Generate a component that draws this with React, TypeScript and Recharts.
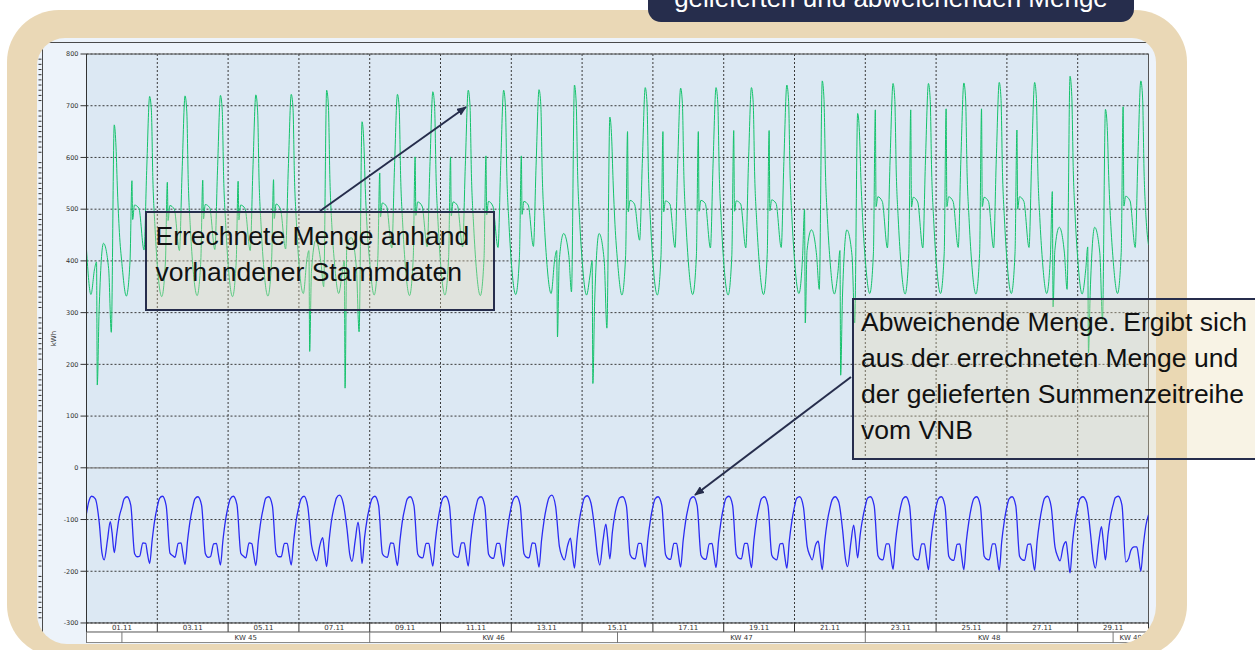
import React from "react";
import {
  ComposedChart,
  Line,
  XAxis,
  YAxis,
  CartesianGrid,
  ReferenceLine,
} from "recharts";

const greenHours = [0, 3, 5.5, 6.8, 7.3, 8.5, 11.5, 15, 16.8, 18.8, 20, 21, 22.3];
const blueHours = [0, 1.5, 3.5, 6, 8.6, 10.5, 12, 14.2, 16.1, 17.3, 18.8, 20.5, 22.2];

// errechnete Menge (kWh), one row per day 01.11. - 30.11.
const greenDays = [
  [421, 335, 385, 398, 160, 300, 434, 385, 262, 663, 620, 535, 455],
  [395, 332, 400, 555, 480, 508, 502, 421, 575, 718, 690, 556, 472],
  [392, 331, 398, 552, 478, 507, 500, 420, 572, 719, 688, 552, 470],
  [393, 333, 401, 556, 481, 509, 503, 422, 574, 720, 692, 558, 474],
  [394, 331, 399, 554, 479, 508, 501, 420, 576, 721, 690, 555, 471],
  [393, 332, 402, 557, 482, 510, 500, 423, 578, 722, 695, 560, 475],
  [396, 337, 405, 420, 225, 380, 440, 395, 350, 730, 700, 560, 470],
  [400, 337, 380, 400, 154, 430, 445, 385, 263, 669, 630, 540, 460],
  [398, 334, 405, 570, 485, 512, 505, 425, 580, 722, 695, 560, 475],
  [396, 333, 405, 601, 488, 514, 506, 427, 582, 727, 698, 562, 476],
  [397, 334, 406, 601, 487, 514, 507, 427, 583, 730, 700, 562, 477],
  [396, 333, 404, 603, 489, 515, 506, 426, 584, 730, 700, 563, 478],
  [398, 335, 407, 603, 490, 515, 508, 428, 585, 731, 702, 565, 478],
  [400, 337, 405, 420, 253, 400, 453, 410, 340, 740, 705, 565, 480],
  [402, 334, 375, 400, 163, 320, 453, 400, 270, 678, 640, 555, 470],
  [400, 334, 410, 650, 495, 517, 510, 440, 588, 735, 705, 566, 480],
  [398, 334, 410, 650, 495, 516, 510, 426, 588, 734, 704, 565, 479],
  [399, 335, 411, 650, 496, 517, 511, 425, 589, 735, 705, 566, 480],
  [398, 334, 410, 652, 496, 516, 510, 425, 590, 735, 706, 566, 480],
  [400, 335, 412, 652, 497, 518, 511, 426, 592, 740, 708, 568, 481],
  [402, 337, 410, 500, 280, 420, 460, 410, 345, 748, 712, 570, 482],
  [404, 336, 380, 420, 179, 330, 460, 410, 280, 685, 650, 560, 475],
  [402, 337, 415, 692, 505, 524, 515, 425, 595, 743, 712, 570, 483],
  [401, 336, 414, 692, 504, 523, 514, 425, 595, 743, 712, 570, 482],
  [402, 337, 415, 694, 505, 524, 515, 426, 596, 744, 713, 571, 484],
  [401, 336, 414, 694, 505, 523, 515, 425, 596, 745, 714, 571, 483],
  [402, 337, 415, 653, 500, 524, 515, 426, 597, 745, 714, 572, 484],
  [404, 337, 410, 534, 311, 420, 465, 415, 345, 757, 718, 575, 485],
  [405, 336, 385, 427, 222, 340, 465, 415, 285, 693, 660, 565, 478],
  [403, 337, 416, 698, 506, 525, 516, 426, 598, 748, 715, 572, 485],
];
const greenEnd = 431;

// abweichende Menge (kWh), one row per day
const blueDays = [
  [-88, -66, -55, -60, -105, -165, -178, -140, -104, -125, -164, -128, -95],
  [-76, -60, -56, -72, -166, -172, -171, -145, -146, -166, -185, -140, -102],
  [-75, -59, -55, -73, -165, -170, -173, -146, -145, -165, -187, -141, -103],
  [-76, -60, -56, -72, -166, -173, -172, -147, -146, -166, -188, -140, -102],
  [-75, -60, -55, -71, -165, -171, -174, -145, -147, -167, -189, -141, -103],
  [-76, -59, -56, -73, -166, -172, -172, -146, -146, -166, -188, -140, -101],
  [-75, -60, -55, -75, -150, -170, -180, -150, -135, -160, -191, -140, -100],
  [-74, -58, -53, -68, -118, -168, -181, -140, -105, -130, -185, -135, -100],
  [-75, -60, -55, -72, -166, -172, -173, -145, -146, -166, -189, -141, -102],
  [-76, -60, -56, -73, -167, -173, -174, -146, -146, -167, -190, -141, -103],
  [-75, -59, -55, -72, -166, -172, -173, -145, -145, -166, -190, -140, -102],
  [-76, -60, -56, -73, -167, -174, -175, -146, -146, -167, -191, -141, -103],
  [-75, -60, -55, -72, -166, -173, -174, -145, -146, -166, -192, -140, -102],
  [-74, -58, -53, -74, -152, -172, -178, -150, -136, -162, -194, -140, -100],
  [-74, -58, -54, -68, -120, -170, -188, -140, -109, -135, -176, -125, -90],
  [-68, -58, -56, -73, -168, -175, -176, -146, -146, -168, -192, -141, -103],
  [-75, -60, -56, -72, -168, -176, -177, -146, -146, -168, -192, -141, -103],
  [-76, -60, -56, -73, -169, -176, -177, -147, -146, -168, -193, -141, -103],
  [-75, -59, -55, -72, -168, -175, -176, -146, -146, -168, -193, -140, -102],
  [-76, -60, -56, -73, -169, -176, -178, -147, -146, -169, -194, -141, -103],
  [-75, -59, -56, -75, -152, -170, -178, -150, -142, -165, -197, -142, -104],
  [-78, -62, -56, -66, -120, -175, -191, -145, -111, -135, -174, -130, -98],
  [-74, -59, -56, -73, -170, -177, -178, -147, -147, -170, -196, -142, -104],
  [-75, -60, -56, -73, -170, -177, -178, -147, -147, -170, -197, -142, -104],
  [-75, -60, -56, -73, -171, -178, -179, -148, -147, -171, -197, -142, -104],
  [-75, -60, -56, -73, -171, -177, -178, -147, -147, -170, -198, -142, -104],
  [-75, -60, -56, -73, -171, -178, -179, -148, -147, -171, -198, -142, -104],
  [-75, -59, -55, -75, -153, -172, -180, -152, -143, -168, -203, -145, -105],
  [-76, -60, -56, -66, -125, -178, -194, -145, -114, -140, -178, -130, -95],
  [-72, -58, -55, -72, -182, -176, -160, -153, -153, -172, -200, -150, -112],
];
const blueEnd = -91;

const yTicks = [-300, -200, -100, 0, 100, 200, 300, 400, 500, 600, 700, 800];
const minorSteps = [10, 20, 30, 40, 50, 60, 70, 80, 90];

const dayBoundaries = [0, 48, 96, 144, 192, 240, 288, 336, 384, 432, 480, 528, 576, 624, 672, 720];
const dateLabelHours = [24, 72, 120, 168, 216, 264, 312, 360, 408, 456, 504, 552, 600, 648, 696];
const dateLabels = [
  "01.11", "03.11", "05.11", "07.11", "09.11", "11.11", "13.11", "15.11",
  "17.11", "19.11", "21.11", "23.11", "25.11", "27.11", "29.11",
];
const weekBoundaries = [0, 24, 192, 360, 528, 696, 720];
const weekLabelHours = [108, 276, 444, 612, 708];
const weekLabels = ["KW 45", "KW 46", "KW 47", "KW 48", "KW 49"];

const greenData = [
  ...greenDays.flatMap((row, d) => row.map((v, i) => ({ t: d * 24 + greenHours[i], v }))),
  { t: 720, v: greenEnd },
];
const blueData = [
  ...blueDays.flatMap((row, d) => row.map((v, i) => ({ t: d * 24 + blueHours[i], v }))),
  { t: 720, v: blueEnd },
];
const yMinorTicks = yTicks.slice(0, -1).flatMap((m) => minorSteps.map((s) => m + s));

const NAVY = "#262D4C";
const axisFont = "DejaVu Sans, Verdana, sans-serif";
const slideFont = "Liberation Sans, Arial, sans-serif";

// keeps the tick lines but draws no label
const noLabel = () => <g />;

const bandTick = (hours: number[], labels: string[], dy: number) => (props: any) => {
  const { x, y, payload } = props;
  const i = hours.indexOf(payload.value);
  return (
    <text x={x} y={y} dy={dy} textAnchor="middle" fontSize={7} fontFamily={axisFont} fill="#333">
      {labels[i] ?? ""}
    </text>
  );
};

const boxStyle: React.CSSProperties = {
  position: "absolute",
  boxSizing: "border-box",
  border: `2.5px solid ${NAVY}`,
  background: "rgba(233, 219, 173, 0.32)",
  fontFamily: slideFont,
  fontSize: 26.5,
  lineHeight: "36px",
  color: "#111",
  whiteSpace: "nowrap",
};

export default function App() {
  return (
    <div
      style={{
        position: "fixed",
        left: 0,
        top: 0,
        width: 1255,
        height: 650,
        overflow: "hidden",
        background: "#fff",
      }}
    >
      {/* beige frame */}
      <div
        style={{
          position: "absolute",
          left: 7,
          top: 10,
          width: 1180,
          height: 647,
          background: "#EAD8B6",
          borderRadius: 52,
        }}
      />

      {/* title tab */}
      <div
        style={{
          position: "absolute",
          left: 648,
          top: -40,
          width: 486,
          height: 62,
          background: NAVY,
          borderRadius: 13,
        }}
      />
      <div
        style={{
          position: "absolute",
          left: 648,
          top: -15,
          width: 486,
          height: 26,
          textAlign: "center",
          color: "#fff",
          fontFamily: slideFont,
          fontSize: 26,
          lineHeight: "26px",
          whiteSpace: "nowrap",
        }}
      >
        gelieferten und abweichenden Menge
      </div>

      {/* screenshot panel */}
      <div
        style={{
          position: "absolute",
          left: 37,
          top: 38,
          width: 1118.5,
          height: 605.5,
          background: "#EDF3FA",
          borderRadius: "28px 24px 38px 30px",
          overflow: "hidden",
        }}
      >
        <div
          style={{
            position: "absolute",
            left: 5,
            top: 4,
            width: 1300,
            height: 800,
            borderTop: "1px solid #4a4a4a",
            borderLeft: "1px solid #4a4a4a",
          }}
        />
        <div
          style={{
            position: "absolute",
            left: 49.5,
            top: 585,
            width: 1062,
            height: 20,
            background: "#fff",
            borderBottom: "1px solid #8a8a8a",
            boxSizing: "border-box",
          }}
        />
        <div style={{ position: "absolute", left: -37, top: -38 }}>
          <ComposedChart
            width={1255}
            height={650}
            data={greenData}
            margin={{ top: 54, right: 106.5, bottom: 7, left: 41.5 }}
          >
            <CartesianGrid stroke="#3a3a3a" strokeDasharray="2 2" fill="#DCE8F3" fillOpacity={1} />
            <XAxis
              xAxisId={0}
              dataKey="t"
              type="number"
              domain={[0, 720]}
              ticks={dayBoundaries}
              interval={0}
              tick={noLabel}
              tickSize={9}
              height={0.01}
              axisLine={{ stroke: "#333" }}
              tickLine={{ stroke: "#333" }}
              allowDataOverflow
            />
            <XAxis
              xAxisId="dates"
              dataKey="t"
              type="number"
              domain={[0, 720]}
              ticks={dateLabelHours}
              interval={0}
              tick={bandTick(dateLabelHours, dateLabels, 7)}
              tickSize={0}
              tickMargin={0}
              tickLine={false}
              axisLine={false}
              height={9}
              allowDataOverflow
            />
            <XAxis
              xAxisId="weekSep"
              dataKey="t"
              type="number"
              domain={[0, 720]}
              ticks={weekBoundaries}
              interval={0}
              tick={noLabel}
              tickSize={11}
              height={0.01}
              axisLine={{ stroke: "#555" }}
              tickLine={{ stroke: "#777" }}
              allowDataOverflow
            />
            <XAxis
              xAxisId="weeks"
              dataKey="t"
              type="number"
              domain={[0, 720]}
              ticks={weekLabelHours}
              interval={0}
              tick={bandTick(weekLabelHours, weekLabels, 8)}
              tickSize={0}
              tickMargin={0}
              tickLine={false}
              axisLine={false}
              height={11}
              allowDataOverflow
            />
            <YAxis
              yAxisId={0}
              type="number"
              domain={[-300, 800]}
              ticks={yTicks}
              interval={0}
              width={45}
              tickSize={6}
              tickMargin={2}
              tick={{ fontSize: 6.5, fill: "#333", fontFamily: axisFont }}
              axisLine={{ stroke: "#333" }}
              tickLine={{ stroke: "#333" }}
              allowDataOverflow
              label={{
                value: "kWh",
                angle: -90,
                position: "insideLeft",
                offset: 12,
                style: { textAnchor: "middle", fontSize: 7, fill: "#333", fontFamily: axisFont },
              }}
            />
            <YAxis
              yAxisId="minor"
              dataKey="v"
              type="number"
              domain={[-300, 800]}
              ticks={yMinorTicks}
              interval={0}
              width={0.01}
              tick={noLabel}
              tickSize={3}
              axisLine={false}
              tickLine={{ stroke: "#333" }}
              allowDataOverflow
            />
            <ReferenceLine y={0} stroke="#858585" strokeWidth={1.3} />
            <ReferenceLine y={800} stroke="#555" />
            <ReferenceLine x={720} stroke="#555" />
            <Line
              dataKey="v"
              type="monotone"
              stroke="#14C26B"
              strokeWidth={1}
              dot={false}
              isAnimationActive={false}
            />
            <Line
              data={blueData}
              dataKey="v"
              type="monotone"
              stroke="#2B2BF2"
              strokeWidth={1.3}
              dot={false}
              isAnimationActive={false}
            />
          </ComposedChart>
        </div>
      </div>

      {/* annotations */}
      <div style={{ ...boxStyle, left: 145, top: 211, width: 350, height: 100, padding: "5px 0 0 8.5px" }}>
        Errechnete Menge anhand
        <br />
        vorhandener Stammdaten
      </div>
      <div style={{ ...boxStyle, left: 851.5, top: 297.5, width: 430, height: 162, padding: "4px 0 0 7.5px" }}>
        Abweichende Menge. Ergibt sich
        <br />
        aus der errechneten Menge und
        <br />
        der gelieferten Summenzeitreihe
        <br />
        vom VNB
      </div>
      <svg
        width={1255}
        height={650}
        style={{ position: "absolute", left: 0, top: 0, pointerEvents: "none" }}
      >
        <defs>
          <marker
            id="arrowHead"
            markerWidth={10}
            markerHeight={8}
            refX={9}
            refY={4}
            orient="auto"
            markerUnits="userSpaceOnUse"
          >
            <path d="M0,0 L10,4 L0,8 z" fill={NAVY} />
          </marker>
        </defs>
        <line x1={320} y1={211} x2={466} y2={107} stroke={NAVY} strokeWidth={2} markerEnd="url(#arrowHead)" />
        <line x1={851} y1={377} x2={695} y2={495} stroke={NAVY} strokeWidth={2} markerEnd="url(#arrowHead)" />
      </svg>
    </div>
  );
}
